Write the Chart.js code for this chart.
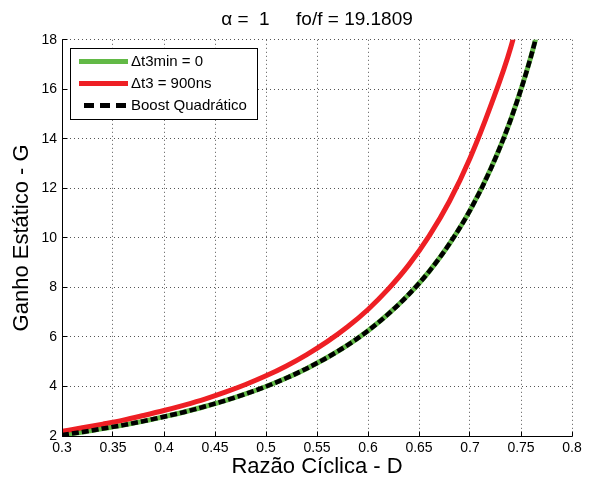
<!DOCTYPE html>
<html><head><meta charset="utf-8">
<script src="https://cdn.jsdelivr.net/npm/chart.js@4.4.1/dist/chart.umd.min.js"></script>
<style>html,body{margin:0;padding:0;background:#fff}#wrap{width:590px;height:482px}</style>
</head><body><div id="wrap"><canvas id="c" width="590" height="482"></canvas></div>
<script>
// Duty cycle D (x axis)
const dutyCycle = [0.30,0.32,0.34,0.36,0.38,0.40,0.42,0.44,0.46,0.48,0.50,0.52,0.54,0.56,0.58,0.60,0.62,0.64,0.66,0.68,0.70,0.72,0.74,0.76,0.78];
// Δt3min = 0
const gainDt3min = [2.04,2.16,2.30,2.44,2.60,2.78,2.97,3.19,3.43,3.70,4.00,4.34,4.73,5.17,5.67,6.25,6.93,7.72,8.65,9.77,11.11,12.76,14.79,17.36,20.66];
// Δt3 = 900ns
const gainDt900 = [2.19,2.33,2.48,2.64,2.83,3.03,3.25,3.49,3.77,4.08,4.43,4.83,5.29,5.81,6.41,7.11,7.94,8.91,10.08,11.49,13.22,15.30,17.70,21.0,25.5];
// Boost Quadrático
const gainBoostQ = [2.04,2.16,2.30,2.44,2.60,2.78,2.97,3.19,3.43,3.70,4.00,4.34,4.73,5.17,5.67,6.25,6.93,7.72,8.65,9.77,11.11,12.76,14.79,17.36,20.66];

const xTicks = [0.3,0.35,0.4,0.45,0.5,0.55,0.6,0.65,0.7,0.75,0.8];
const xTickLabels = ['0.3','0.35','0.4','0.45','0.5','0.55','0.6','0.65','0.7','0.75','0.8'];
const yTicks = [2,4,6,8,10,12,14,16,18];
const yTickLabels = ['2','4','6','8','10','12','14','16','18'];

const seriesNames = ['\u0394t3min = 0','\u0394t3 = 900ns','Boost Quadr\u00e1tico'];
const titleText = '\u03b1 =  1     fo/f = 19.1809';

const pts = (xs, ys) => xs.map((x, i) => ({x, y: ys[i]}));
const FONT = "'Liberation Sans', Arial, Helvetica, sans-serif";

const decor = {
  id: 'decor',
  afterDatasetsDraw(chart) {
    const {ctx, chartArea: a, scales: {x, y}} = chart;
    const al = p => Math.round(p - 0.5) + 0.5;
    ctx.save();
    ctx.setLineDash([]);
    ctx.strokeStyle = '#000';
    ctx.lineWidth = 1;
    const L = al(a.left), B = al(a.bottom);
    ctx.beginPath();
    ctx.moveTo(L, al(a.top)); ctx.lineTo(L, B); ctx.lineTo(al(a.right), B);
    xTicks.forEach(v => { const px = al(x.getPixelForValue(v)); ctx.moveTo(px, B); ctx.lineTo(px, B - 5); });
    yTicks.forEach(v => { const py = al(y.getPixelForValue(v)); ctx.moveTo(L, py); ctx.lineTo(L + 5, py); });
    ctx.stroke();

    // legend box
    const bx = 70.5, by = 48.5, bw = 187, bh = 71;
    ctx.fillStyle = '#fff';
    ctx.fillRect(bx, by, bw, bh);
    ctx.strokeRect(bx, by, bw, bh);
    const rows = [61.5, 83.5, 105.5];
    const ds = chart.data.datasets;
    ctx.font = '15px ' + FONT;
    ctx.textBaseline = 'middle';
    ctx.textAlign = 'left';
    rows.forEach((ry, i) => {
      const d = ds[i];
      ctx.save();
      ctx.strokeStyle = d.borderColor;
      ctx.lineWidth = 5;
      ctx.lineCap = 'butt';
      if (d.borderDash && d.borderDash.length) {
        ctx.setLineDash([10, 6]);
        ctx.beginPath(); ctx.moveTo(84, ry); ctx.lineTo(128, ry); ctx.stroke();
      } else {
        ctx.beginPath(); ctx.moveTo(79, ry); ctx.lineTo(128, ry); ctx.stroke();
      }
      ctx.restore();
      ctx.fillStyle = '#000';
      ctx.fillText(d.label, 131, ry + 0.5);
    });
    ctx.restore();
  }
};

new Chart(document.getElementById('c'), {
  type: 'line',
  data: {
    datasets: [
      {label: seriesNames[0], data: pts(dutyCycle, gainDt3min), borderColor: '#62b946', borderWidth: 5, order: 3},
      {label: seriesNames[1], data: pts(dutyCycle, gainDt900), borderColor: '#ee1f24', borderWidth: 5, order: 2},
      {label: seriesNames[2], data: pts(dutyCycle, gainBoostQ), borderColor: '#000000', borderWidth: 4.5, borderDash: [7, 3], order: 1}
    ]
  },
  options: {
    responsive: false,
    animation: false,
    devicePixelRatio: 1,
    layout: {padding: {left: 0, right: 18, top: 0, bottom: 0}},
    elements: {point: {radius: 0, hoverRadius: 0}, line: {cubicInterpolationMode: 'monotone', borderCapStyle: 'butt', fill: false}},
    datasets: {line: {clip: 0}},
    plugins: {
      legend: {display: false},
      tooltip: {enabled: false},
      title: {
        display: true, text: titleText, fullSize: false, color: '#000',
        font: {family: FONT, size: 19, weight: 'normal', lineHeight: 1.2},
        padding: {top: 8, bottom: 9}
      }
    },
    scales: {
      x: {
        type: 'linear', min: 0.3, max: 0.8,
        afterBuildTicks: s => { s.ticks = xTicks.map(v => ({value: v})); },
        afterFit: s => { s.height = 46; },
        ticks: {autoSkip: false, maxRotation: 0, color: '#000', padding: 4,
          font: {family: FONT, size: 14}, callback: (v, i) => xTickLabels[i]},
        grid: {color: '#555', lineWidth: 1, drawTicks: false, borderDash: [1, 3]},
        border: {display: false, dash: [1, 3]},
        title: {display: true, text: 'Raz\u00e3o C\u00edclica - D', color: '#000',
          font: {family: FONT, size: 22}, padding: {top: 0, bottom: 2}}
      },
      y: {
        type: 'linear', min: 2, max: 18,
        afterBuildTicks: s => { s.ticks = yTicks.map(v => ({value: v})); },
        afterFit: s => { s.width = 62; },
        ticks: {autoSkip: false, color: '#000', padding: 5,
          font: {family: FONT, size: 14}, callback: (v, i) => yTickLabels[i]},
        grid: {color: '#555', lineWidth: 1, drawTicks: false, borderDash: [1, 3]},
        border: {display: false, dash: [1, 3]},
        title: {display: true, text: 'Ganho Est\u00e1tico - G', color: '#000',
          font: {family: FONT, size: 22}, padding: {top: 9, bottom: 0}}
      }
    }
  },
  plugins: [decor]
});
</script></body></html>
